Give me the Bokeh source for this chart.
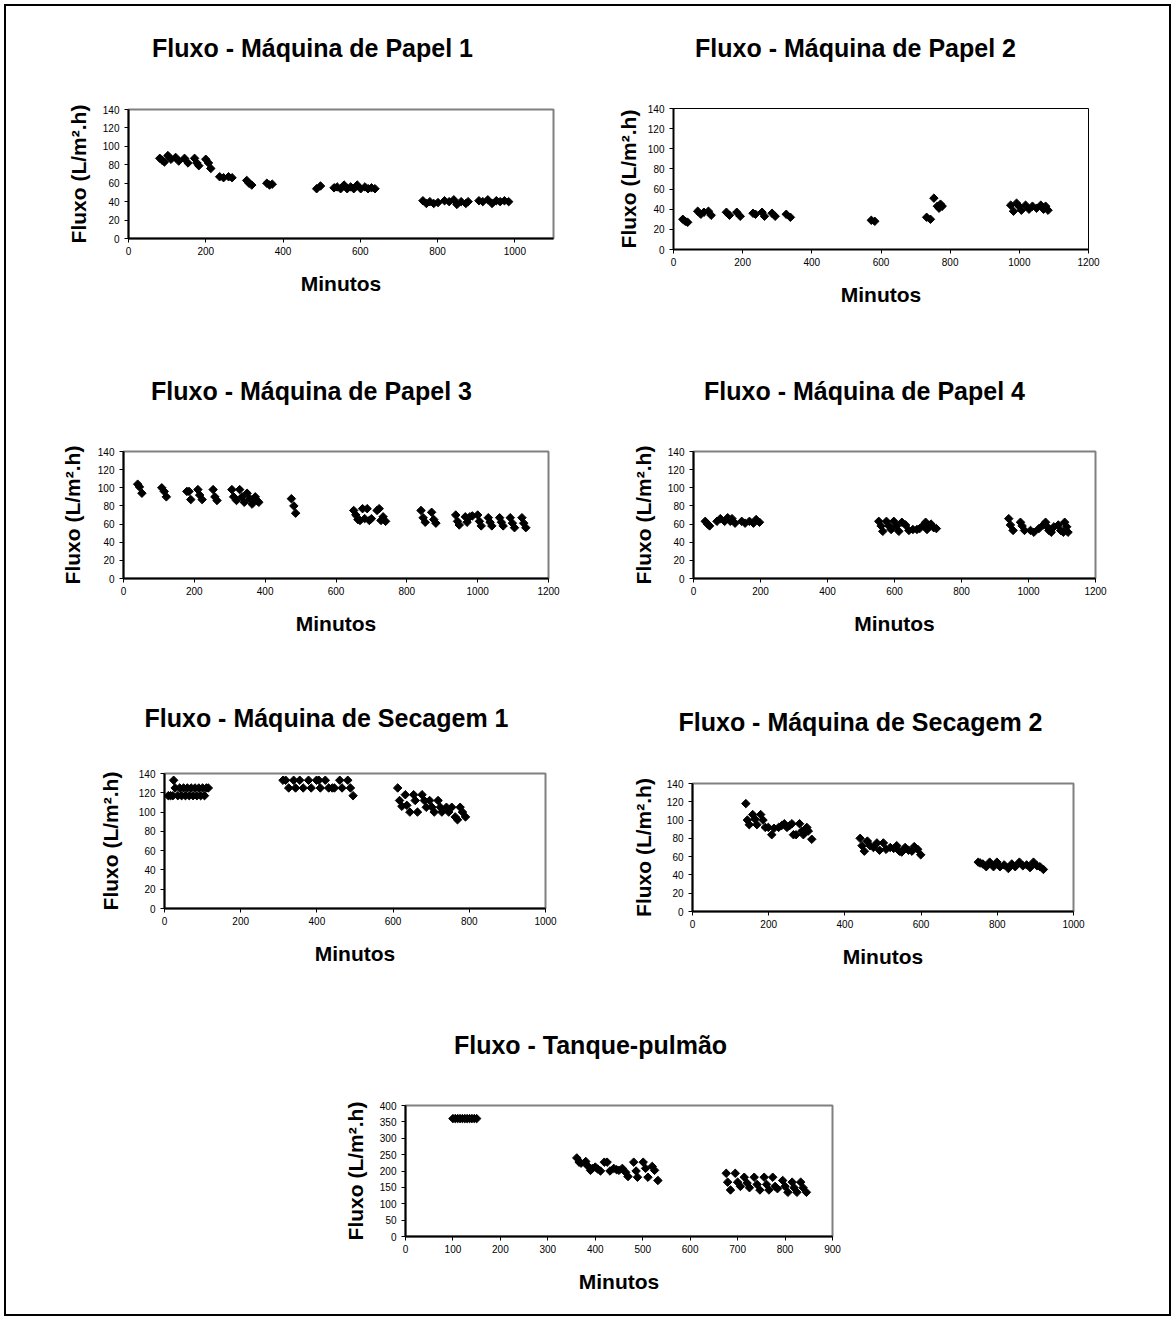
import math
from bokeh.plotting import figure
from bokeh.models import Range1d, FixedTicker
from bokeh.layouts import column, row
from bokeh.embed import file_html
from bokeh.resources import INLINE

# ---------------- data ----------------
mp1_x = [81, 87, 93, 102, 110, 122, 130, 145, 154, 171, 177, 182, 200, 207, 213,
         236, 246, 259, 268, 306, 312, 319, 358, 365, 372, 487, 497,
         532, 540, 549, 558, 566, 575, 583, 592, 601, 612, 620, 629, 638,
         762, 771, 780, 790, 801, 818, 830, 842, 850, 861, 873, 879,
         907, 917, 930, 941, 952, 962, 973, 984]
mp1_y = [87, 85, 83, 90, 86, 88, 84, 87, 82, 87, 82, 79, 86, 82, 76,
         67, 66, 67, 66, 63, 60, 58, 60, 58, 59, 54, 57,
         55, 56, 54, 58, 54, 56, 54, 58, 54, 56, 54, 55, 54,
         41, 38, 40, 38, 39, 41, 40, 42, 37, 40, 38, 40,
         41, 40, 42, 38, 41, 40, 41, 40]

mp2_x = [27, 34, 41, 70, 79, 88, 101, 109, 153, 162, 183, 193, 230, 237, 256, 263,
         285, 294, 326, 338, 572, 582, 732, 743, 753, 763, 768, 772, 777,
         975, 983, 992, 999, 1006, 1018, 1028, 1038, 1050, 1062, 1070, 1076, 1083]
mp2_y = [30, 28, 27, 38, 35, 37, 38, 34, 37, 34, 37, 33, 36, 35, 37, 33,
         36, 33, 35, 32, 29, 28, 32, 30, 51, 43, 41, 45, 43,
         44, 38, 46, 43, 39, 44, 40, 43, 41, 44, 40, 43, 39]

mp3_x = [40, 45, 52, 108, 115, 121, 179, 185, 190, 210, 215, 222, 253, 258, 264,
         306, 311, 319, 328, 335, 341, 349, 357, 363, 372, 377, 382,
         474, 481, 486,
         650, 656, 662, 668, 675, 681, 688, 694, 700, 716, 722, 727, 733, 740,
         840, 846, 852, 870, 876, 882,
         938, 943, 948, 965, 970, 978, 985, 1000, 1005, 1010, 1030, 1035, 1040,
         1062, 1067, 1072, 1092, 1098, 1104, 1125, 1130, 1136]
mp3_y = [104, 101, 94, 100, 96, 90, 96, 96, 87, 98, 92, 87, 98, 90, 86,
         98, 90, 86, 98, 90, 84, 94, 88, 82, 90, 86, 84,
         88, 80, 72,
         75, 70, 65, 64, 77, 66, 77, 64, 66, 75, 77, 64, 68, 63,
         75, 67, 62, 73, 65, 61,
         70, 63, 59, 68, 62, 68, 69, 70, 63, 58, 67, 62, 58,
         67, 62, 58, 67, 61, 56, 67, 61, 56]

mp4_x = [35, 42, 48, 70, 80, 93, 102, 110, 115, 124, 144, 154, 167, 179, 187, 197,
         553, 560, 565, 576, 583, 590, 598, 606, 613, 622, 633, 643, 655, 667, 675,
         687, 693, 697, 702, 709, 717, 725,
         941, 946, 954, 976, 981, 988, 1006, 1016, 1031, 1044, 1051, 1056, 1061, 1068, 1076,
         1089, 1096, 1104, 1108, 1114, 1118]
mp4_y = [63, 60, 58, 63, 66, 63, 67, 63, 66, 61, 63, 61, 63, 61, 65, 62,
         63, 58, 52, 63, 58, 54, 63, 58, 52, 62, 59, 53, 54, 54, 55,
         59, 62, 54, 58, 60, 56, 55,
         66, 59, 53, 62, 58, 53, 53, 51, 55, 59, 62, 57, 53, 51, 57,
         59, 53, 51, 62, 57, 51]

ms1_x = [10, 16, 22, 24, 28, 35, 40, 45, 50, 55, 60, 65, 70, 75, 80, 85, 90, 95, 100, 105, 110, 115,
         311, 318, 326, 339, 344, 355, 364, 378, 385, 399, 405, 409, 422, 431, 440, 446, 460, 466, 481, 488, 495,
         612, 617, 623, 632, 636, 644, 654, 658, 664, 676, 682, 687, 696, 702, 708, 718, 724, 728,
         740, 746, 754, 763, 769, 776, 782, 790]
ms1_y = [117, 117, 117, 133, 125, 117, 125, 117, 125, 117, 125, 117, 125, 117, 125, 117, 125, 117, 125, 117, 125, 125,
         133, 133, 125, 133, 125, 133, 125, 133, 125, 133, 133, 125, 133, 125, 125, 125, 133, 125, 133, 125, 117,
         125, 112, 106, 118, 107, 100, 118, 112, 100, 118, 112, 105, 112, 105, 100, 112, 105, 100,
         105, 100, 105, 95, 92, 105, 100, 95]

ms2_x = [140, 144, 149, 158, 164, 169, 179, 185, 191, 199, 208, 214, 226, 234, 241, 248, 255, 261, 265,
         272, 281, 287, 291, 300, 304, 313,
         440, 445, 451, 459, 466, 475, 484, 491, 501, 508, 519, 528, 536, 543, 549, 558, 567, 576, 582, 591, 599,
         750, 755, 762, 771, 780, 790, 799, 807, 818, 829, 838, 847, 858, 867, 877, 886, 895, 904, 912, 921]
ms2_y = [118, 100, 95, 106, 101, 95, 106, 100, 92, 92, 84, 91, 92, 94, 96, 92, 94, 96, 84,
         84, 96, 88, 84, 92, 88, 79,
         80, 72, 66, 77, 72, 70, 75, 67, 75, 68, 70, 69, 72, 66, 65, 70, 67, 66, 71, 68, 62,
         54, 53, 52, 49, 54, 49, 54, 49, 51, 47, 52, 49, 54, 50, 51, 48, 54, 50, 49, 46]

tq_x = [100, 105, 110, 115, 120, 125, 130, 135, 140, 145, 150,
        361, 366, 370, 380, 383, 390, 394, 400, 405, 411, 419, 425, 431, 439, 445, 450, 457, 464,
        469, 481, 486, 489, 501, 506, 511, 520, 525, 532,
        676, 679, 685, 695, 700, 706, 714, 720, 725, 735, 741, 747, 756, 761, 766, 774, 779, 784,
        795, 800, 806, 815, 819, 825, 833, 838, 845]
tq_y = [360, 360, 360, 360, 360, 360, 360, 360, 360, 360, 360,
        240, 227, 224, 229, 217, 202, 208, 212, 206, 200, 227, 227, 200, 208, 204, 202, 208, 196,
        183, 227, 200, 181, 227, 208, 181, 214, 202, 171,
        193, 166, 142, 193, 166, 153, 181, 163, 149, 181, 159, 142, 181, 159, 142, 181, 153, 146,
        171, 153, 135, 166, 149, 135, 166, 149, 135]

titles = ["Fluxo - Máquina de Papel 1", "Fluxo - Máquina de Papel 2",
          "Fluxo - Máquina de Papel 3", "Fluxo - Máquina de Papel 4",
          "Fluxo - Máquina de Secagem 1", "Fluxo - Máquina de Secagem 2",
          "Fluxo - Tanque-pulmão"]
x_label = "Minutos"
y_label = "Fluxo (L/m².h)"

x_ticks_1000 = [0, 200, 400, 600, 800, 1000]
x_ticks_1200 = [0, 200, 400, 600, 800, 1000, 1200]
x_ticks_900 = [0, 100, 200, 300, 400, 500, 600, 700, 800, 900]
y_ticks_140 = [0, 20, 40, 60, 80, 100, 120, 140]
y_ticks_400 = [0, 50, 100, 150, 200, 250, 300, 350, 400]

# ---------------- layout / styling ----------------
FONT = "Liberation Sans"
TITLE_SIZE = 25

# w: cell width; th: title strip height; tc, tb: title centre / baseline inside the strip
# h: chart height; bl, br, bt, bb: borders around the plot frame
specs = [
    dict(xs=mp1_x, ys=mp1_y, xt=x_ticks_1000, yt=y_ticks_140, w=584, th=70, tc=306, tb=50,
         h=260, bl=122, br=37, bt=33, bb=98, xmax=1100, ymax=140, oc="#808080", ow=2, yls=10),
    dict(xs=mp2_x, ys=mp2_y, xt=x_ticks_1200, yt=y_ticks_140, w=579, th=70, tc=265, tb=50,
         h=260, bl=83, br=81, bt=32, bb=87, xmax=1200, ymax=140, oc="#000000", ow=1, yls=5),
    dict(xs=mp3_x, ys=mp3_y, xt=x_ticks_1200, yt=y_ticks_140, w=584, th=75, tc=305, tb=63,
         h=257, bl=117, br=42, bt=40, bb=90, xmax=1200, ymax=140, oc="#808080", ow=2, yls=11),
    dict(xs=mp4_x, ys=mp4_y, xt=x_ticks_1200, yt=y_ticks_140, w=579, th=75, tc=274, tb=63,
         h=257, bl=103, br=74, bt=40, bb=90, xmax=1200, ymax=140, oc="#808080", ow=2, yls=10),
    dict(xs=ms1_x, ys=ms1_y, xt=x_ticks_1000, yt=y_ticks_140, w=584, th=72, tc=320, tb=58,
         h=252, bl=158, br=45, bt=33, bb=84, xmax=1000, ymax=140, oc="#808080", ow=2, yls=14),
    dict(xs=ms2_x, ys=ms2_y, xt=x_ticks_1000, yt=y_ticks_140, w=579, th=72, tc=270, tb=62,
         h=252, bl=102, br=96, bt=43, bb=81, xmax=1000, ymax=140, oc="#808080", ow=2, yls=9),
    dict(xs=tq_x, ys=tq_y, xt=x_ticks_900, yt=y_ticks_400, w=1163, th=70, tc=584, tb=61,
         h=252, bl=399, br=337, bt=43, bb=78, xmax=900, ymax=400, oc="#808080", ow=2, yls=10),
]


def make_title(title, s):
    # a blank strip whose (invisible) x-axis label is the chart title,
    # centred at tc with its baseline at tb
    fw = 200
    left = s["tc"] - fw // 2
    frame_h = s["tb"] - 25
    t = figure(width=s["w"], height=s["th"], x_range=Range1d(0, 1), y_range=Range1d(0, 1),
               title=None, output_backend="svg", toolbar_location=None,
               y_axis_location=None, frame_align=False,
               min_border_left=left, min_border_right=s["w"] - left - fw,
               min_border_top=0, min_border_bottom=s["th"] - frame_h)
    t.outline_line_color = None
    t.background_fill_color = "white"
    t.border_fill_color = "white"
    t.xgrid.visible = False
    t.ygrid.visible = False
    ax = t.xaxis[0]
    ax.ticker = FixedTicker(ticks=[])
    ax.axis_line_color = None
    ax.major_tick_line_color = None
    ax.minor_tick_line_color = None
    ax.major_tick_out = 0
    ax.major_tick_in = 0
    ax.major_label_standoff = 0
    ax.axis_label = title
    ax.axis_label_standoff = int(round(s["tb"] - 0.905 * TITLE_SIZE - frame_h))
    ax.axis_label_text_font = FONT
    ax.axis_label_text_font_size = f"{TITLE_SIZE}px"
    ax.axis_label_text_font_style = "bold"
    ax.axis_label_text_color = "black"
    return t


def make_chart(s):
    p = figure(width=s["w"], height=s["h"],
               x_range=Range1d(0, s["xmax"]), y_range=Range1d(0, s["ymax"]),
               title=None, output_backend="svg", toolbar_location=None, frame_align=False,
               min_border_left=s["bl"], min_border_right=s["br"],
               min_border_top=s["bt"], min_border_bottom=s["bb"])
    p.background_fill_color = "white"
    p.border_fill_color = "white"
    p.outline_line_color = s["oc"]
    p.outline_line_width = s["ow"]
    p.xgrid.visible = False
    p.ygrid.visible = False

    p.xaxis.ticker = FixedTicker(ticks=s["xt"])
    p.yaxis.ticker = FixedTicker(ticks=s["yt"])
    for ax in (p.xaxis[0], p.yaxis[0]):
        ax.axis_line_color = "black"
        ax.axis_line_width = 2
        ax.major_tick_line_color = "black"
        ax.major_tick_line_width = 1
        ax.major_tick_out = 4
        ax.major_tick_in = 0
        ax.minor_tick_line_color = None
        ax.major_label_text_font = FONT
        ax.major_label_text_font_size = "10px"
        ax.major_label_text_color = "black"
        ax.axis_label_text_font = FONT
        ax.axis_label_text_font_size = "21px"
        ax.axis_label_text_font_style = "bold"
        ax.axis_label_text_color = "black"
    p.xaxis.axis_label = x_label
    p.yaxis.axis_label = y_label
    p.xaxis.major_label_standoff = 4
    p.yaxis.major_label_standoff = 5
    p.xaxis.axis_label_standoff = 14
    p.yaxis.axis_label_standoff = s["yls"]

    p.scatter(s["xs"], s["ys"], marker="square", angle=math.pi / 4, size=6,
              fill_color="black", line_color="black")
    return p


cells = [column(make_title(t, s), make_chart(s)) for t, s in zip(titles, specs)]

layout = column(
    row(cells[0], cells[1]),
    row(cells[2], cells[3]),
    row(cells[4], cells[5]),
    cells[6],
    margin=(6, 0, 0, 6),
    styles={"outline": "2px solid black"},
)

open("out.html", "w").write(file_html(layout, INLINE))
